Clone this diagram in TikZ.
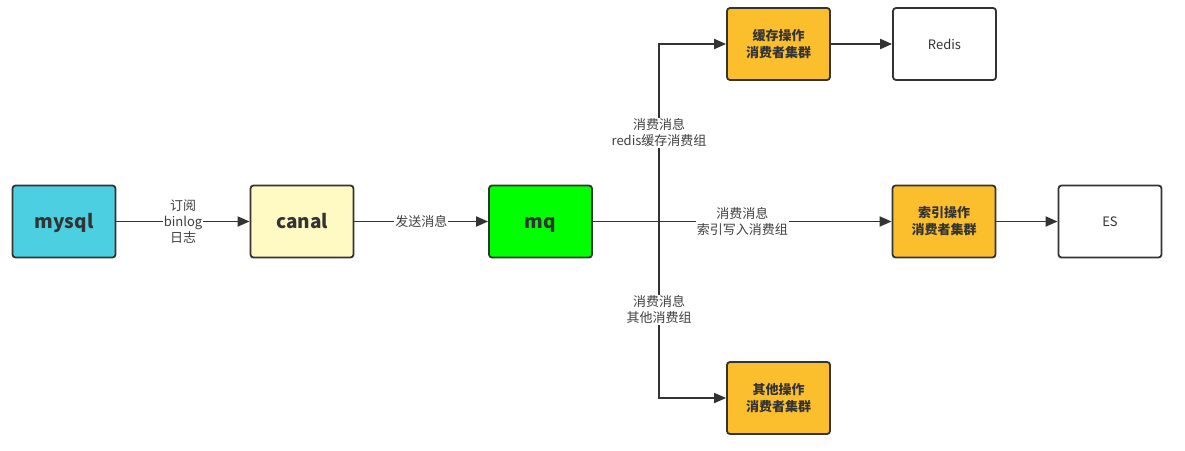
\documentclass[tikz,border=0pt]{standalone}
\usepackage{fontspec}
\setmainfont{Noto Sans CJK SC}
\usetikzlibrary{arrows.meta,positioning}
\definecolor{lineclr}{HTML}{333333}
\definecolor{textclr}{HTML}{404040}
\definecolor{mysqlclr}{HTML}{4BCFE1}
\definecolor{canalclr}{HTML}{FFF9C4}
\definecolor{mqclr}{HTML}{00FF00}
\definecolor{consumerclr}{HTML}{FBBF2D}
\tikzset{
  box/.style={
    draw=lineclr, line width=1.8pt, rounded corners=3pt,
    minimum width=103pt, minimum height=72pt, inner sep=0pt,
    align=center, text=lineclr
  },
  bigbox/.style={box, text height=13pt, text depth=0pt,
    font=\fontsize{19}{21}\selectfont\bfseries},
  consumer/.style={box, fill=consumerclr, font=\fontsize{13}{17}\selectfont\bfseries},
  store/.style={box, fill=white, font=\fontsize{13}{17}\selectfont},
  arr/.style={draw=lineclr, line width=1.8pt, -{Triangle[length=12pt,width=10pt]}},
  lbl/.style={fill=white, inner sep=1pt, align=center, text=textclr,
    font=\fontsize{13}{16}\selectfont}
}

\begin{document}
\begin{tikzpicture}[x=1pt,y=-1pt]
\useasboundingbox (0,0) rectangle (1185,450);

% source side
\node [bigbox, fill=mysqlclr] (mysql) at (64,221.5) {mysql};
\node [bigbox, fill=canalclr] (canal) at (302,221.5) {canal};
\node [bigbox, fill=mqclr] (mq) at (540.5,221.5) {mq};

% consumer groups
\node [consumer] (cache) at (778.5,44) {缓存操作\\消费者集群};
\node [consumer] (index) at (944,221.5) {索引操作\\消费者集群};
\node [consumer] (other) at (778.5,398) {其他操作\\消费者集群};

% stores
\node [store] (redis) at (944.5,44) {Redis};
\node [store] (es) at (1110,221.5) {ES};

\coordinate (split) at (659,221.5);

\draw [arr] (mysql) -- node [lbl] {订阅\\binlog\\日志} (canal);
\draw [arr] (canal) -- node [lbl] {发送消息} (mq);
\draw [arr] (split) |- node [lbl, pos=0.25] {消费消息\\redis缓存消费组} (cache);
\draw [arr] (split) |- node [lbl, pos=0.25] {消费消息\\其他消费组} (other);
\draw [arr] (mq) -- node [lbl] {消费消息\\索引写入消费组} (index);
\draw [arr] (cache) -- (redis);
\draw [arr] (index) -- (es);
\end{tikzpicture}
\end{document}
